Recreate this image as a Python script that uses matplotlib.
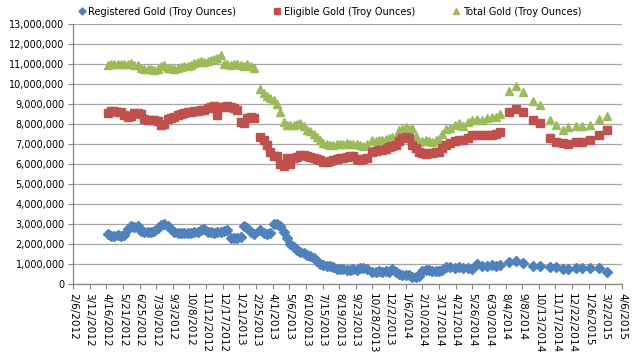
import matplotlib
matplotlib.use("Agg")
import matplotlib.pyplot as plt
from matplotlib.ticker import FuncFormatter, MultipleLocator
import pandas as pd

dates = [
    # weekly 2012-04-19 .. 2013-02-21
    "2012-04-19", "2012-04-26", "2012-05-03", "2012-05-10", "2012-05-17", "2012-05-24", "2012-05-31",
    "2012-06-07", "2012-06-14", "2012-06-21", "2012-06-28", "2012-07-05", "2012-07-12", "2012-07-19",
    "2012-07-26", "2012-08-02", "2012-08-09", "2012-08-16", "2012-08-23", "2012-08-30", "2012-09-06",
    "2012-09-13", "2012-09-20", "2012-09-27", "2012-10-04", "2012-10-11", "2012-10-18", "2012-10-25",
    "2012-11-01", "2012-11-08", "2012-11-15", "2012-11-22", "2012-11-29", "2012-12-06", "2012-12-13",
    "2012-12-20", "2012-12-27", "2013-01-03", "2013-01-10", "2013-01-17", "2013-01-24", "2013-01-31",
    "2013-02-07", "2013-02-14", "2013-02-21",
    # 2013-03-06 .. 2013-10-16
    "2013-03-06", "2013-03-13", "2013-03-20", "2013-03-27", "2013-04-03", "2013-04-10", "2013-04-17",
    "2013-04-24", "2013-05-01", "2013-05-08", "2013-05-15", "2013-05-22", "2013-05-29", "2013-06-05",
    "2013-06-12", "2013-06-19", "2013-06-26", "2013-07-03", "2013-07-10", "2013-07-17", "2013-07-24",
    "2013-07-31", "2013-08-07", "2013-08-14", "2013-08-21", "2013-08-28", "2013-09-04", "2013-09-11",
    "2013-09-18", "2013-09-25", "2013-10-02", "2013-10-09", "2013-10-16",
    # 2013-10-28 .. 2014-03-24
    "2013-10-28", "2013-11-04", "2013-11-11", "2013-11-18", "2013-11-25", "2013-12-02", "2013-12-09",
    "2013-12-16", "2013-12-23", "2013-12-30", "2014-01-06", "2014-01-13", "2014-01-20", "2014-01-27",
    "2014-02-03", "2014-02-10", "2014-02-17", "2014-02-24", "2014-03-03", "2014-03-10", "2014-03-17",
    "2014-03-24",
    # sparser observations
    "2014-04-01", "2014-04-10", "2014-04-20", "2014-04-29", "2014-05-07", "2014-05-18", "2014-05-26",
    "2014-06-05", "2014-06-16", "2014-06-26", "2014-07-07", "2014-07-15", "2014-07-24", "2014-08-12",
    "2014-08-26", "2014-09-10", "2014-10-01", "2014-10-16", "2014-11-06", "2014-11-18", "2014-12-03",
    "2014-12-14", "2014-12-30", "2015-01-12", "2015-01-29", "2015-02-17", "2015-03-06",
]

registered = [
    2.5, 2.4, 2.4, 2.45, 2.4, 2.45, 2.75, 2.9, 2.85, 2.9,
    2.65, 2.6, 2.6, 2.6, 2.65, 2.8, 2.95, 3.0, 2.9, 2.75,
    2.6, 2.55, 2.55, 2.55, 2.55, 2.55, 2.6, 2.6, 2.7, 2.75,
    2.6, 2.6, 2.55, 2.6, 2.6, 2.65, 2.7, 2.3, 2.3, 2.3,
    2.35, 2.9, 2.8, 2.6, 2.5,
    2.7, 2.55, 2.5, 2.55, 3.0, 3.0, 2.9, 2.6, 2.3, 2.0,
    1.85, 1.7, 1.6, 1.55, 1.45, 1.4, 1.3, 1.15, 1.0, 0.95,
    0.9, 0.9, 0.85, 0.75, 0.75, 0.75, 0.72, 0.72, 0.75, 0.72,
    0.8, 0.82, 0.78,
    0.62, 0.62, 0.65, 0.6, 0.65, 0.62, 0.78, 0.6, 0.5, 0.45,
    0.45, 0.45, 0.38, 0.35, 0.4, 0.65, 0.72, 0.7, 0.68, 0.65,
    0.65, 0.7,
    0.85, 0.85, 0.82, 0.85, 0.82, 0.83, 0.78, 1.0, 0.92, 0.92,
    0.95, 0.93, 0.95, 1.1, 1.17, 1.05, 0.93, 0.93, 0.88, 0.88,
    0.75, 0.75, 0.8, 0.8, 0.8, 0.8, 0.63,
]

eligible = [
    8.55, 8.65, 8.65, 8.6, 8.6, 8.45, 8.35, 8.4, 8.55, 8.55,
    8.5, 8.25, 8.2, 8.2, 8.2, 8.15, 7.95, 8.0, 8.25, 8.3,
    8.35, 8.45, 8.5, 8.55, 8.6, 8.6, 8.65, 8.65, 8.7, 8.7,
    8.8, 8.85, 8.9, 8.45, 8.85, 8.85, 8.9, 8.85, 8.8, 8.7,
    8.1, 8.05, 8.3, 8.35, 8.3,
    7.35, 7.2, 6.95, 6.6, 6.4, 6.4, 6.0, 5.9, 6.3, 6.0,
    6.3, 6.35, 6.45, 6.45, 6.4, 6.35, 6.3, 6.25, 6.2, 6.1,
    6.1, 6.15, 6.2, 6.25, 6.3, 6.3, 6.35, 6.4, 6.4, 6.25,
    6.2, 6.25, 6.3,
    6.6, 6.65, 6.7, 6.7, 6.75, 6.85, 6.9, 6.95, 7.15, 7.3,
    7.35, 7.3, 6.95, 6.8, 6.6, 6.55, 6.5, 6.55, 6.55, 6.6,
    6.6, 6.8,
    6.95, 7.05, 7.15, 7.2, 7.2, 7.3, 7.45, 7.45, 7.45, 7.45,
    7.45, 7.5, 7.6, 8.6, 8.75, 8.6, 8.2, 8.05, 7.3, 7.1,
    7.05, 7.0, 7.1, 7.1, 7.2, 7.45, 7.7,
]

total = [
    10.95, 11.0, 11.0, 11.0, 11.0, 11.0, 11.0, 11.05, 10.95, 10.95,
    10.8, 10.75, 10.75, 10.75, 10.7, 10.75, 10.9, 10.95, 10.8, 10.8,
    10.75, 10.8, 10.85, 10.9, 10.9, 10.95, 11.05, 11.1, 11.15, 11.1,
    11.15, 11.2, 11.25, 11.3, 11.45, 11.0, 11.0, 10.95, 11.0, 11.0,
    10.95, 10.9, 11.0, 10.9, 10.8,
    9.75, 9.55, 9.4, 9.3, 9.2, 9.0, 8.6, 8.1, 7.95, 7.95,
    7.95, 8.0, 8.05, 7.9, 7.7, 7.65, 7.5, 7.35, 7.2, 7.05,
    7.0, 6.95, 6.95, 7.0, 7.0, 7.0, 7.05, 7.0, 7.0, 7.0,
    6.95, 6.9, 7.0,
    7.2, 7.15, 7.2, 7.2, 7.25, 7.3, 7.35, 7.35, 7.7, 7.75,
    7.85, 7.75, 7.8, 7.4, 7.1, 7.15, 7.2, 7.15, 7.1, 7.2,
    7.25, 7.5,
    7.75, 7.8, 7.95, 8.05, 7.9, 8.1, 8.2, 8.25, 8.2, 8.3,
    8.35, 8.35, 8.5, 9.65, 9.9, 9.6, 9.15, 8.95, 8.2, 7.95,
    7.7, 7.85, 7.9, 7.9, 7.95, 8.25, 8.4,
]

tick_labels = [
    "2/6/2012", "3/12/2012", "4/16/2012", "5/21/2012", "6/25/2012", "7/30/2012", "9/3/2012",
    "10/8/2012", "11/12/2012", "12/17/2012", "1/21/2013", "2/25/2013", "4/1/2013", "5/6/2013",
    "6/10/2013", "7/15/2013", "8/19/2013", "9/23/2013", "10/28/2013", "12/2/2013", "1/6/2014",
    "2/10/2014", "3/17/2014", "4/21/2014", "5/26/2014", "6/30/2014", "8/4/2014", "9/8/2014",
    "10/13/2014", "11/17/2014", "12/22/2014", "1/26/2015", "3/2/2015", "4/6/2015",
]

series_names = ["Registered Gold (Troy Ounces)", "Eligible Gold (Troy Ounces)", "Total Gold (Troy Ounces)"]

x = pd.to_datetime(dates)
ticks = pd.to_datetime(tick_labels, format="%m/%d/%Y")

plt.rcParams["font.family"] = ["DejaVu Sans"]
fig = plt.figure(figsize=(6.4, 3.63), dpi=100)
ax = fig.add_axes([73 / 640, 1 - 284.3 / 363, (622 - 73) / 640, (284.3 - 24.3) / 363])

scale = 1e6
ax.plot(x, [v * scale for v in total], linestyle="none", marker="^", ms=6.0,
        color="#9BBB59", mec="#9BBB59", label=series_names[2], zorder=3)
ax.plot(x, [v * scale for v in eligible], linestyle="none", marker="s", ms=5.4,
        color="#C0504D", mec="#C0504D", label=series_names[1], zorder=3)
ax.plot(x, [v * scale for v in registered], linestyle="none", marker="D", ms=4.8,
        color="#4F81BD", mec="#4F81BD", label=series_names[0], zorder=3)

ax.set_xlim(ticks[0], ticks[-1])
ax.set_ylim(0, 13e6)
ax.yaxis.set_major_locator(MultipleLocator(1e6))
ax.yaxis.set_major_formatter(FuncFormatter(lambda v, p: f"{int(round(v)):,}"))
ax.set_xticks(ticks)
ax.set_xticklabels(tick_labels, rotation=-90, ha="center", va="top")

ax.grid(axis="y", color="#A6A6A6", lw=0.9, zorder=0)
ax.set_axisbelow(True)
for s in ["top", "right"]:
    ax.spines[s].set_visible(False)
for s in ["left", "bottom"]:
    ax.spines[s].set_color("#868686")
    ax.spines[s].set_linewidth(0.9)
ax.tick_params(axis="both", direction="out", length=3.5, width=0.8, color="#868686",
               labelcolor="black", pad=2.5)
ax.tick_params(axis="y", labelsize=7)
ax.tick_params(axis="x", labelsize=7.6)

handles, labels = ax.get_legend_handles_labels()
order = [2, 1, 0]
fig.legend([handles[i] for i in order], [labels[i] for i in order], loc="center",
           bbox_to_anchor=(0.515, 0.968), ncol=3, frameon=False, fontsize=7,
           handlelength=0.8, handletextpad=0.3, columnspacing=3.8, markerscale=0.75)

fig.savefig("out.png", dpi=100)
